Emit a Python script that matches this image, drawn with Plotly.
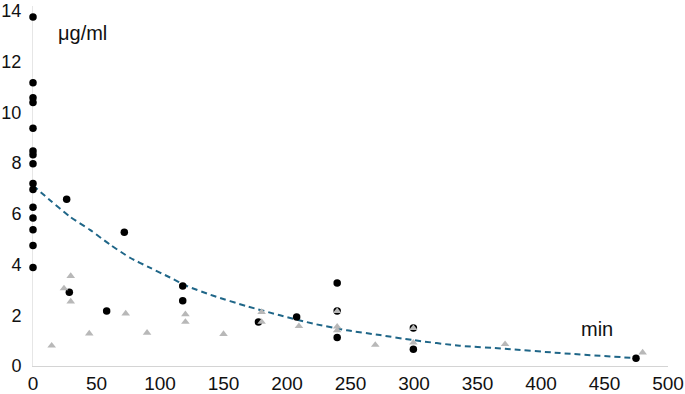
import plotly.graph_objects as go

# Black dots (series 1)
dot_x = [0, 0, 0, 0, 0, 0, 0, 0, 0, 0, 0, 0, 0, 0, 0,
         26.5, 28.6, 58, 71.9, 117.9, 117.9, 177.5, 207.6,
         239.5, 239.5, 239.5, 299.5, 299.5, 474.8]
dot_y = [13.77, 11.17, 10.58, 10.39, 9.38, 8.48, 8.33, 7.98, 7.20, 6.96,
         6.26, 5.84, 5.37, 4.75, 3.89,
         6.58, 2.91, 2.17, 5.28, 3.16, 2.57, 1.74, 1.93,
         3.27, 2.17, 1.12, 1.50, 0.66, 0.31]

# Grey triangles (series 2)
tri_x = [14.7, 24.4, 29.7, 29.7, 44.3, 73, 89.8, 120, 120, 150, 180, 180,
         209.4, 239.5, 239.5, 239.5, 269.5, 299.5, 299.5, 371.7, 480]
tri_y = [0.80, 3.06, 3.55, 2.54, 1.28, 2.07, 1.31, 2.04, 1.74, 1.26, 2.13, 1.74,
         1.57, 2.16, 1.55, 1.41, 0.83, 1.49, 0.92, 0.86, 0.53]

# Dashed trend curve
fit_x = [0, 13.4, 29.1, 44.9, 60.6, 76.4, 92, 107.9, 121, 142, 168.3, 194.5,
         220.7, 247, 273.2, 299.5, 336, 371.7, 415, 474.8]
fit_y = [7.12, 6.54, 5.89, 5.37, 4.79, 4.27, 3.88, 3.49, 3.16, 2.77, 2.36, 2.0,
         1.67, 1.41, 1.22, 1.02, 0.80, 0.68, 0.51, 0.31]

x_ticks = [0, 50, 100, 150, 200, 250, 300, 350, 400, 450, 500]
y_ticks = [0, 2, 4, 6, 8, 10, 12, 14]

fig = go.Figure()
fig.add_trace(go.Scatter(x=fit_x, y=fit_y, mode="lines",
                         line=dict(color="#1f6688", width=2, dash="6px,4px",
                                   shape="spline", smoothing=0.6),
                         cliponaxis=False, showlegend=False))
fig.add_trace(go.Scatter(x=dot_x, y=dot_y, mode="markers",
                         marker=dict(color="black", size=7.5, symbol="circle"),
                         cliponaxis=False, showlegend=False))
fig.add_trace(go.Scatter(x=tri_x, y=tri_y, mode="markers",
                         marker=dict(color="#b8b8b8", size=7.5, symbol="triangle-up"),
                         cliponaxis=False, showlegend=False))

xfont = dict(family="Liberation Sans, Arial, sans-serif", size=19, color="#111111")
yfont = dict(family="Liberation Sans, Arial, sans-serif", size=18, color="#111111")

W, H = 685, 394
l, r, t, b = 33, 17, 6, 28

fig.update_layout(
    width=W, height=H,
    margin=dict(l=l, r=r, t=t, b=b),
    paper_bgcolor="white", plot_bgcolor="white",
    font=xfont,
    xaxis=dict(range=[0, 500], tickvals=x_ticks, showgrid=False, zeroline=False,
               showline=True, linecolor="#d4d4d4", linewidth=1, ticks="",
               tickfont=xfont, ticklabelstandoff=0, automargin=False,
               ticklabeloverflow="allow", layer="below traces"),
    yaxis=dict(range=[0, 14.2], tickvals=y_ticks, showgrid=False, zeroline=False,
               showline=True, linecolor="#e6e6e6", linewidth=1, ticks="",
               tickfont=yfont, ticklabelstandoff=7, automargin=False,
               ticklabeloverflow="allow", layer="below traces"),
)

# annotation positions given in pixels, converted to paper coordinates
pw, ph = W - l - r, H - t - b
def to_paper(px, py):
    return (px - l) / pw, 1 - (py - t) / ph

labels = [("μg/ml", 82, 33), ("min", 597, 329)]
for text, px, py in labels:
    ax, ay = to_paper(px, py)
    fig.add_annotation(x=ax, y=ay, xref="paper", yref="paper", text=text,
                       showarrow=False, xanchor="center", yanchor="middle",
                       font=dict(family="Liberation Sans, Arial, sans-serif", size=20,
                                 color="#111111"))

fig.write_html("out.html")
